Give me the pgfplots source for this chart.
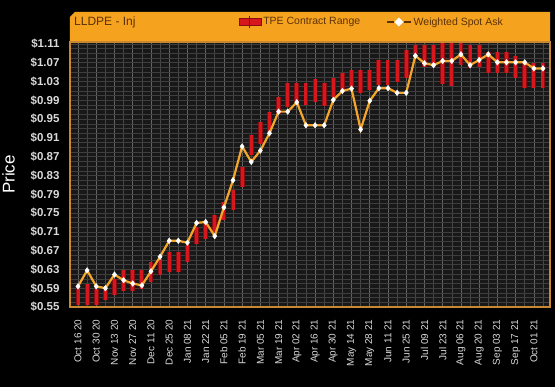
\documentclass[border=0pt]{standalone}
\usepackage{fontspec}
\setmainfont{Liberation Sans}
\usepackage{pgfplots}
\pgfplotsset{compat=1.18}
\usepackage{pgfplotstable}
\usetikzlibrary{shapes.geometric}
\definecolor{hdr}{HTML}{F5A21E}
\definecolor{frameor}{HTML}{C9872F}
\definecolor{plotbg}{HTML}{181818}
\definecolor{gridxmaj}{HTML}{646464}
\definecolor{gridxmin}{HTML}{474747}
\definecolor{gridy}{HTML}{3E3E3E}
\definecolor{lbl}{HTML}{DADADA}
\definecolor{hdrtxt}{HTML}{5C3206}
\definecolor{spot}{HTML}{F4A62A}
\definecolor{barred}{HTML}{D8161D}
\definecolor{bardark}{HTML}{8A0C10}

% TPE contract range: for each week the low and the high, segments separated by nan
\pgfplotstableread{
x y
0 0.555
0 0.593
0 nan
1 0.555
1 0.600
1 nan
2 0.555
2 0.589
2 nan
3 0.564
3 0.589
3 nan
4 0.575
4 0.610
4 nan
5 0.585
5 0.628
5 nan
6 0.585
6 0.628
6 nan
7 0.589
7 0.628
7 nan
8 0.603
8 0.646
8 nan
9 0.618
9 0.653
9 nan
10 0.624
10 0.667
10 nan
11 0.624
11 0.667
11 nan
12 0.646
12 0.681
12 nan
13 0.685
13 0.720
13 nan
14 0.694
14 0.728
14 nan
15 0.710
15 0.745
15 nan
16 0.735
16 0.774
16 nan
17 0.756
17 0.799
17 nan
18 0.806
18 0.848
18 nan
19 0.873
19 0.916
19 nan
20 0.898
20 0.944
20 nan
21 0.923
21 0.966
21 nan
22 0.962
22 0.998
22 nan
23 0.976
23 1.026
23 nan
24 0.987
24 1.026
24 nan
25 0.980
25 1.026
25 nan
26 0.987
26 1.035
26 nan
27 0.978
27 1.026
27 nan
28 0.998
28 1.037
28 nan
29 1.008
29 1.048
29 nan
30 1.012
30 1.055
30 nan
31 1.005
31 1.055
31 nan
32 1.012
32 1.055
32 nan
33 1.023
33 1.076
33 nan
34 1.023
34 1.076
34 nan
35 1.030
35 1.076
35 nan
36 1.037
36 1.097
36 nan
37 1.083
37 1.108
37 nan
38 1.062
38 1.108
38 nan
39 1.062
39 1.108
39 nan
40 1.025
40 1.112
40 nan
41 1.020
41 1.112
41 nan
42 1.066
42 1.112
42 nan
43 1.058
43 1.108
43 nan
44 1.062
44 1.108
44 nan
45 1.048
45 1.094
45 nan
46 1.048
46 1.094
46 nan
47 1.048
47 1.094
47 nan
48 1.037
48 1.085
48 nan
49 1.017
49 1.072
49 nan
50 1.017
50 1.069
50 nan
51 1.017
51 1.069
}\rangetable

\pgfplotstableread{
x y
0 0.594
1 0.628
2 0.594
3 0.590
4 0.619
5 0.607
6 0.600
7 0.596
8 0.626
9 0.657
10 0.691
11 0.691
12 0.687
13 0.729
14 0.731
15 0.701
16 0.762
17 0.820
18 0.892
19 0.859
20 0.883
21 0.920
22 0.966
23 0.966
24 0.986
25 0.937
26 0.937
27 0.937
28 0.991
29 1.010
30 1.015
31 0.928
32 0.989
33 1.016
34 1.016
35 1.006
36 1.006
37 1.085
38 1.069
39 1.065
40 1.074
41 1.074
42 1.088
43 1.065
44 1.076
45 1.088
46 1.071
47 1.071
48 1.071
49 1.071
50 1.058
51 1.058
}\spottable

\begin{document}
\begin{tikzpicture}
\path[fill=black, use as bounding box] (-70pt,-80pt) rectangle (485pt,307pt);
\fill[hdr] (0pt,265pt) -- (0pt,290pt) -- (5pt,295pt) -- (480pt,295pt) -- (480pt,265pt) -- cycle;
\node[anchor=west, text=hdrtxt, font=\fontsize{12}{14}\selectfont, inner sep=0pt] at (4pt,285pt) {LLDPE - Inj};
\begin{axis}[
  at={(0pt,0pt)}, anchor=south west,
  scale only axis, width=480pt, height=265pt,
  xmin=-0.88, xmax=51.77,
  ymin=0.55, ymax=1.1143,
  axis background/.style={fill=plotbg},
  axis line style={draw=frameor, line width=1.6pt},
  xtick={0,2,...,50},
  minor xtick={1,3,...,51},
  xticklabels={Oct 16 20,Oct 30 20,Nov 13 20,Nov 27 20,Dec 11 20,Dec 25 20,Jan 08 21,Jan 22 21,Feb 05 21,Feb 19 21,Mar 05 21,Mar 19 21,Apr 02 21,Apr 16 21,Apr 30 21,May 14 21,May 28 21,Jun 11 21,Jun 25 21,Jul 09 21,Jul 23 21,Aug 06 21,Aug 20 21,Sep 03 21,Sep 17 21,Oct 01 21},
  ytick={0.55,0.59,0.63,0.67,0.71,0.75,0.79,0.83,0.87,0.91,0.95,0.99,1.03,1.07,1.11},
  yticklabels={\$0.55,\$0.59,\$0.63,\$0.67,\$0.71,\$0.75,\$0.79,\$0.83,\$0.87,\$0.91,\$0.95,\$0.99,\$1.03,\$1.07,\$1.11},
  minor y tick num=3,
  major tick length=0pt, minor tick length=0pt,
  grid=both,
  x grid style={draw=gridxmaj, line width=0.7pt},
  minor x grid style={draw=gridxmin, line width=0.6pt},
  y grid style={draw=gridy, line width=0.6pt},
  minor y grid style={draw=gridy, line width=0.6pt},
  unbounded coords=jump,
  /pgf/number format/assume math mode=true,
  xticklabel style={font=\fontsize{10}{11}\selectfont, text=lbl, yshift=-9pt, rotate=90, anchor=east},
  yticklabel style={font=\bfseries\fontsize{11.5}{12}\selectfont, text=lbl, anchor=east, xshift=-7pt},
  ylabel={Price},
  every axis y label/.style={at={(axis description cs:-0.128,0.5)}, rotate=90, anchor=center},
  ylabel style={font=\fontsize{17}{18}\selectfont, text=white},
  legend columns=2,
  legend style={at={(axis description cs:1,1)}, anchor=east, xshift=-42pt, yshift=20pt,
    draw=none, fill=none, text=hdrtxt, font=\fontsize{10.5}{12}\selectfont,
    /tikz/every even column/.append style={column sep=24pt}},
]
\addplot[bardark, line width=4.8pt, line cap=butt, mark=none,
  legend image code/.code={\fill[barred, draw=bardark, line width=0.8pt] (0pt,-3.5pt) rectangle (22pt,3.5pt); \draw[bardark, line width=1pt] (11pt,-6pt)--(11pt,6pt);}]
  table[x=x, y=y] {\rangetable};
\addlegendentry{TPE Contract Range}
\addplot[barred, line width=3pt, line cap=butt, mark=none, forget plot]
  table[x=x, y=y] {\rangetable};
\addplot[spot, line width=2.2pt, mark=diamond*, mark size=2.8pt,
  mark options={fill=white, draw=white, line width=0.4pt},
  legend image code/.code={\draw[hdrtxt, line width=1.5pt] (0pt,0pt)--(7pt,0pt); \draw[hdrtxt, line width=1.5pt] (17pt,0pt)--(24pt,0pt); \node[diamond, fill=white, inner sep=0pt, minimum size=10pt] at (12pt,0pt) {};}]
  table[x=x, y=y] {\spottable};
\addlegendentry{Weighted Spot Ask}
\end{axis}
\end{tikzpicture}
\end{document}
